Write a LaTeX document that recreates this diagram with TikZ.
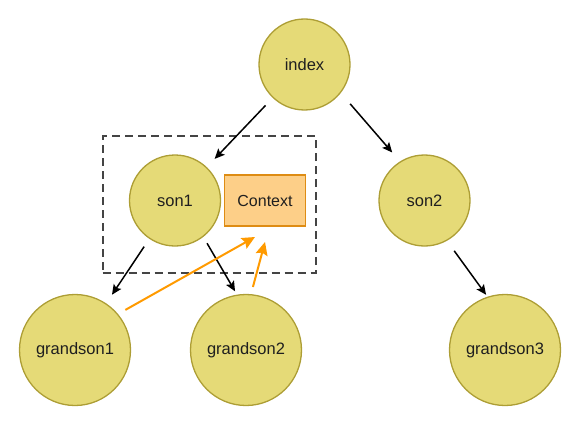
\documentclass[tikz,border=0pt]{standalone}
\usepackage{fontspec}
\setmainfont{Liberation Sans}
\usetikzlibrary{arrows.meta}
\definecolor{nodefill}{HTML}{E5DA77}
\definecolor{nodeline}{HTML}{AD9E35}
\definecolor{ctxfill}{HTML}{FDCF88}
\definecolor{ctxline}{HTML}{DE8C14}
\definecolor{orangearr}{HTML}{FF9A00}
\definecolor{dashgray}{HTML}{444444}
\tikzset{
  treenode/.style={circle, draw=nodeline, fill=nodefill, line width=1.3pt,
    inner sep=0pt, outer sep=0pt, text=black!88,
    font=\fontsize{16.5}{18}\selectfont},
  ctxbox/.style={rectangle, draw=ctxline, fill=ctxfill, line width=1.3pt,
    minimum width=81pt, minimum height=51pt, inner sep=0pt, outer sep=0pt,
    text=black!88, font=\fontsize{16}{18}\selectfont},
  blackarr/.style={draw=black, line width=1.5pt, -{Stealth[length=10pt,width=9pt,inset=2pt]}},
  orangearr/.style={draw=orangearr, line width=2pt, -{Stealth[length=13pt,width=12pt,inset=2pt]}},
  groupbox/.style={draw=dashgray, line width=2pt, dash pattern=on 8pt off 5pt}
}
\begin{document}
\begin{tikzpicture}[x=1pt,y=-1pt]
\useasboundingbox (0,0) rectangle (580,425);
\node[groupbox, rectangle, minimum width=213pt, minimum height=137pt, inner sep=0pt, outer sep=0pt] (grp) at (209,204.5) {};
\node[treenode, minimum size=91pt] (index) at (304.5,64.5) {index};
\node[treenode, minimum size=91pt] (son1) at (175,200.5) {son1};
\node[treenode, minimum size=91pt] (son2) at (424.5,200.5) {son2};
\node[treenode, minimum size=111pt] (gs1) at (75,350) {grandson1};
\node[treenode, minimum size=111pt] (gs2) at (246,350) {grandson2};
\node[treenode, minimum size=111pt] (gs3) at (505,350) {grandson3};
\node[ctxbox] (ctx) at (265,200.5) {Context};
\coordinate (t1) at (255,237);
\coordinate (t2) at (265,242);
\draw[blackarr, shorten <=11pt, shorten >=12pt] (index) -- (son1);
\draw[blackarr, shorten <=15pt, shorten >=12.5pt] (index.-38) -- (son2.122);
\draw[blackarr, shorten <=10pt, shorten >=11pt] (son1) -- (gs1);
\draw[blackarr, shorten <=8pt, shorten >=4.5pt] (son1.-52) -- (gs2.99);
\draw[blackarr, shorten <=13pt, shorten >=3pt] (son2.-61) -- (gs3.108);
\draw[orangearr, shorten <=9pt] (gs1.40) -- (t1);
\draw[orangearr, shorten <=8pt] (gs2.85) -- (t2);
\end{tikzpicture}
\end{document}
